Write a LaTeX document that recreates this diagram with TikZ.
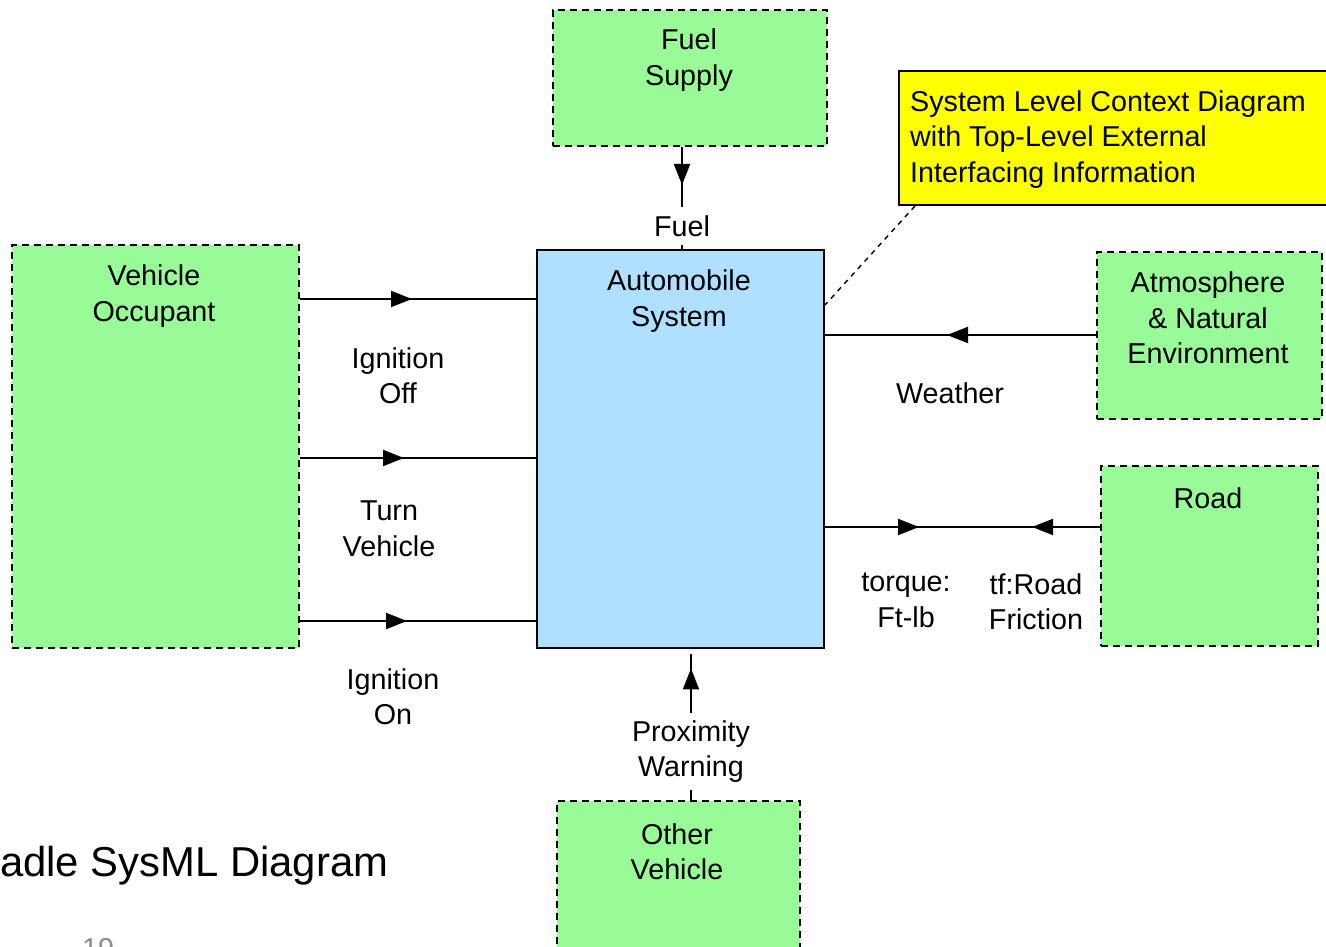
\documentclass[tikz,border=0pt]{standalone}
\usepackage{fontspec}
\setmainfont{Liberation Sans}
\usetikzlibrary{arrows.meta,decorations.markings}
\definecolor{extgreen}{RGB}{152,251,152}
\definecolor{sysblue}{RGB}{176,224,255}
\definecolor{noteyellow}{RGB}{255,255,0}
\definecolor{pagegray}{RGB}{140,140,140}
\begin{document}
\begin{tikzpicture}[x=1pt,y=-1pt,
  txt/.style={font=\fontsize{28.7}{35.5}\selectfont, align=center, inner sep=0pt},
  extbox/.style={draw=black, line width=2pt, dash pattern=on 7pt off 5pt, fill=extgreen, inner sep=0pt, anchor=north west},
  sysbox/.style={draw=black, line width=2pt, fill=sysblue, inner sep=0pt, anchor=north west},
  notebox/.style={draw=black, line width=2pt, fill=noteyellow, inner sep=0pt, anchor=north west},
  flow/.style={line width=2pt},
  notelink/.style={line width=1.4pt, dash pattern=on 5pt off 5pt},
  tipat/.style={postaction={decorate, decoration={markings, mark=at position #1 with {\arrow{Triangle[length=21pt,width=16pt]}}}}},
  tipback/.style={postaction={decorate, decoration={markings, mark=at position #1 with {\arrowreversed{Triangle[length=21pt,width=16pt]}}}}},
]
\useasboundingbox (0,0) rectangle (1326,947);
\fill[white] (0,0) rectangle (1326,947);

% boxes
\node[extbox, minimum width=274pt, minimum height=136pt] (fuelsup) at (552,9) {};
\node[sysbox, minimum width=287pt, minimum height=398pt] (auto) at (536,249) {};
\node[extbox, minimum width=287pt, minimum height=403pt] (occ) at (11,244) {};
\node[extbox, minimum width=225pt, minimum height=167pt] (atm) at (1096,251) {};
\node[extbox, minimum width=217pt, minimum height=180pt] (road) at (1100,465) {};
\node[extbox, minimum width=243pt, minimum height=170pt] (other) at (556,800) {};
\node[notebox, minimum width=445pt, minimum height=134pt] (note) at (898,70) {};

% box texts
\node[txt] (fuelsupT) at (689,60) {Fuel\\Supply};
\node[txt] (autoT) at (679,301) {Automobile\\System};
\node[txt] (occT) at (154,296) {Vehicle\\Occupant};
\node[txt] (atmT) at (1208,318) {Atmosphere\\\& Natural\\Environment};
\node[txt] (roadT) at (1208,498) {Road};
\node[txt] (otherT) at (677,851.5) {Other\\Vehicle};
\node[txt, align=left, anchor=west] (noteT) at (910,139.5) {System Level Context Diagram\\with Top-Level External\\Interfacing Information};

% flow labels
\node[txt, inner sep=8pt] (fuellbl) at (682,226) {Fuel};
\node[txt] (ignoffT) at (398,375.5) {Ignition\\Off};
\node[txt] (turnT) at (389,529) {Turn\\Vehicle};
\node[txt] (ignonT) at (393,696.5) {Ignition\\On};
\node[txt] (weatherT) at (950,393) {Weather};
\node[txt] (torqueT) at (906,600.5) {torque:\\Ft-lb};
\node[txt] (frictionT) at (1036,601.5) {tf:Road\\Friction};
\node[txt, inner sep=7pt] (proxlbl) at (691,751.75) {Proximity\\Warning};

% connectors
\draw[flow, tipat=38pt] (fuelsup.south -| fuellbl.north) -- (fuellbl.north);
\draw[flow] (fuellbl.south) -- (auto.north -| fuellbl.south);
\draw[flow, tipat=112pt] (occ.east |- 0,299) -- (auto.west |- 0,299);
\draw[flow, tipat=104pt] (occ.east |- 0,458) -- (auto.west |- 0,458);
\draw[flow, tipat=107pt] (occ.east |- 0,621) -- (auto.west |- 0,621);
\draw[flow, tipat=149pt] (atm.west |- 0,335) -- (auto.east |- 0,335);
\draw[flow, tipat=94pt, tipback=207pt] (auto.east |- 0,527) -- (road.west |- 0,527);
\draw[flow, tipat=45pt, shorten >=5pt] (proxlbl.north) -- (auto.south -| proxlbl.north);
\draw[flow] (proxlbl.south) -- (other.north -| proxlbl.south);
\draw[notelink] ([xshift=17pt]note.south west) -- (auto.east |- 0,305);

% slide remnants
\node[font=\fontsize{41.8}{50}\selectfont, inner sep=0pt, anchor=base west] (slideT) at (0,876) {adle SysML Diagram};
\node[font=\fontsize{28.8}{35}\selectfont, text=pagegray, inner sep=0pt, anchor=base west] (pageT) at (82,958) {19};
\end{tikzpicture}
\end{document}
